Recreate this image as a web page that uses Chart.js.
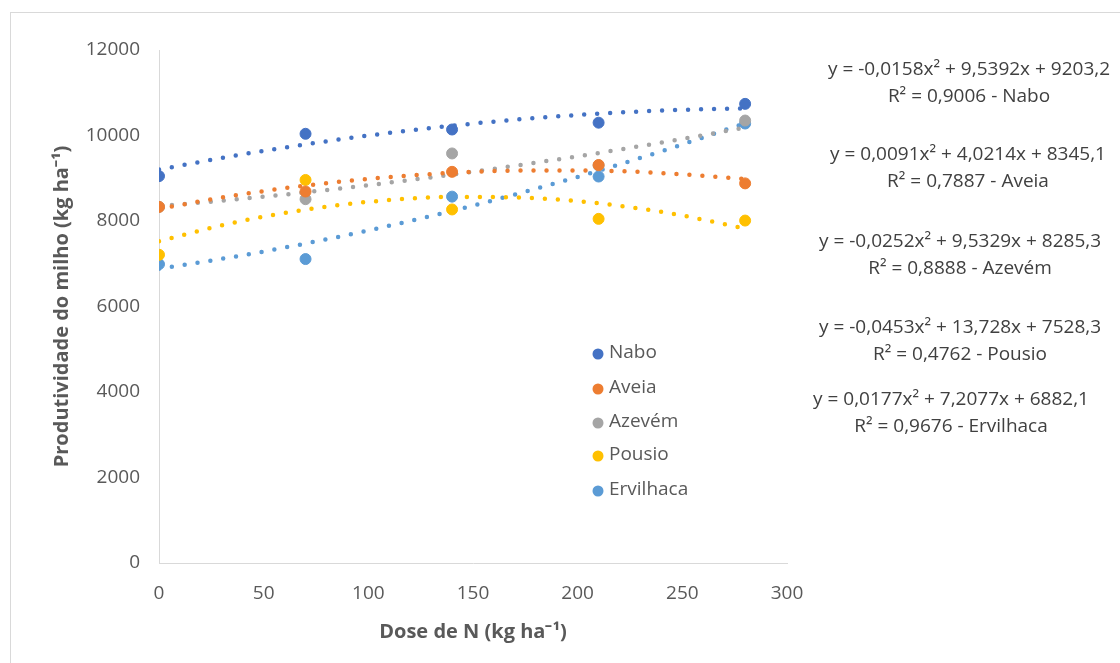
<!DOCTYPE html>
<html>
<head>
<meta charset="utf-8">
<script src="https://cdn.jsdelivr.net/npm/chart.js@4.4.1/dist/chart.umd.min.js"></script>
<style>
    html, body { margin: 0; padding: 0; background: #fff; }
    #wrap { width: 1120px; height: 663px; position: relative; }
</style>
</head>
<body>
<div id="wrap"><canvas id="chart" width="1120" height="663"></canvas></div>
<script>
// Doses de N (kg/ha)
const doses = [0, 70, 140, 210, 280];
const trendDoses = [0, 35, 70, 105, 140, 175, 210, 245, 280];

const seriesNames = ['Nabo', 'Aveia', 'Azevém', 'Pousio', 'Ervilhaca'];
const seriesColors = ['#4472C4', '#ED7D31', '#A5A5A5', '#FFC000', '#5B9BD5'];

// observed yields (kg/ha)
const nabo = [9050, 10040, 10140, 10300, 10740];
const aveia = [8330, 8690, 9150, 9310, 8880];
const azevem = [8330, 8510, 9580, 9300, 10350];
const pousio = [7210, 8960, 8270, 8050, 8010];
const ervilhaca = [6990, 7110, 8570, 9040, 10280];

// dotted trendlines at the trendDoses
const trendNabo = [9203, 9518, 9793, 10031, 10229, 10389, 10510, 10592, 10635];
const trendAveia = [8285, 8588, 8829, 9008, 9126, 9182, 9176, 9108, 8979];
const trendAzevem = [8345, 8497, 8671, 8868, 9086, 9328, 9591, 9877, 10184];
const trendPousio = [7528, 7953, 8267, 8470, 8562, 8543, 8414, 8173, 7821];
const trendErvilhaca = [6882, 7156, 7473, 7834, 8238, 8686, 9176, 9710, 10288];

const equations = [
    ['y = -0,0158x² + 9,5392x + 9203,2', 'R² = 0,9006 - Nabo'],
    ['y = 0,0091x² + 4,0214x + 8345,1', 'R² = 0,7887 - Aveia'],
    ['y = -0,0252x² + 9,5329x + 8285,3', 'R² = 0,8888 - Azevém'],
    ['y = -0,0453x² + 13,728x + 7528,3', 'R² = 0,4762 - Pousio'],
    ['y = 0,0177x² + 7,2077x + 6882,1', 'R² = 0,9676 - Ervilhaca']
];

const yTicks = [0, 2000, 4000, 6000, 8000, 10000, 12000];
const xTicks = [0, 50, 100, 150, 200, 250, 300];

const FONT = "'Open Sans', 'Liberation Sans', sans-serif";

const observed = [nabo, aveia, azevem, pousio, ervilhaca];
const trends = [trendNabo, trendAveia, trendAzevem, trendPousio, trendErvilhaca];

function toPoints(xs, ys) {
    return xs.map((x, i) => ({ x: x, y: ys[i] }));
}

const datasets = [];
observed.forEach((vals, i) => {
    datasets.push({
        label: seriesNames[i],
        data: toPoints(doses, vals),
        backgroundColor: seriesColors[i],
        borderColor: seriesColors[i],
        pointRadius: 5.5,
        pointHoverRadius: 5.5,
        showLine: false,
        order: 0
    });
});
trends.forEach((vals, i) => {
    datasets.push({
        label: 'trend ' + seriesNames[i],
        data: toPoints(trendDoses, vals),
        borderColor: seriesColors[i],
        borderWidth: 4.5,
        borderDash: [0, 13],
        borderCapStyle: 'round',
        pointRadius: 0,
        showLine: true,
        cubicInterpolationMode: 'monotone',
        fill: false,
        order: 1
    });
});

// legend inside the plot + equation labels + frame
const extrasPlugin = {
    id: 'extras',
    beforeDraw(chart) {
        const ctx = chart.ctx;
        ctx.save();
        ctx.strokeStyle = '#D9D9D9';
        ctx.lineWidth = 1;
        ctx.strokeRect(10.5, 12.5, 1120, 663);
        ctx.restore();
    },
    afterDraw(chart) {
        const ctx = chart.ctx;
        ctx.save();

        // legend
        const legendY = [353, 388, 422, 455, 490];
        ctx.font = '19px ' + FONT;
        ctx.textBaseline = 'middle';
        ctx.textAlign = 'left';
        seriesNames.forEach((name, i) => {
            ctx.fillStyle = seriesColors[i];
            ctx.beginPath();
            ctx.arc(598, legendY[i] + 1, 5.5, 0, Math.PI * 2);
            ctx.fill();
            ctx.fillStyle = '#595959';
            ctx.fillText(name, 609, legendY[i]);
        });

        // equations
        const eqX = [969, 968, 960, 960, 951];
        const eqY = [70, 155, 242, 328, 400];
        ctx.font = '19px ' + FONT;
        ctx.textAlign = 'center';
        ctx.fillStyle = '#404040';
        equations.forEach((lines, i) => {
            ctx.fillText(lines[0], eqX[i], eqY[i]);
            ctx.fillText(lines[1], eqX[i], eqY[i] + 27);
        });
        ctx.restore();
    }
};

new Chart(document.getElementById('chart'), {
    type: 'scatter',
    data: { datasets: datasets },
    options: {
        responsive: false,
        animation: false,
        devicePixelRatio: 1,
        layout: {
            padding: { left: 0, right: 333, top: 50, bottom: 0 }
        },
        plugins: {
            legend: { display: false },
            tooltip: { enabled: false }
        },
        scales: {
            x: {
                type: 'linear',
                min: 0,
                max: 300,
                afterBuildTicks: (scale) => {
                    scale.ticks = xTicks.map(v => ({ value: v }));
                },
                afterFit: (scale) => { scale.height = 100; },
                grid: { display: false, drawTicks: false },
                border: { display: true, color: '#D9D9D9', width: 1 },
                ticks: {
                    color: '#595959',
                    padding: 19,
                    font: { family: FONT, size: 19 },
                    maxRotation: 0,
                    callback: (v) => String(v)
                },
                title: {
                    display: true,
                    text: 'Dose de N (kg ha⁻¹)',
                    color: '#595959',
                    font: { family: FONT, size: 20, weight: 'bold' },
                    padding: { top: 0, bottom: 19 }
                }
            },
            y: {
                type: 'linear',
                min: 0,
                max: 12000,
                afterBuildTicks: (scale) => {
                    scale.ticks = yTicks.map(v => ({ value: v }));
                },
                afterFit: (scale) => { scale.width = 159; },
                grid: { display: false, drawTicks: false },
                border: { display: true, color: '#D9D9D9', width: 1 },
                ticks: {
                    color: '#595959',
                    padding: 19,
                    font: { family: FONT, size: 19 },
                    callback: (v) => String(v)
                },
                title: {
                    display: true,
                    text: 'Produtividade do milho (kg ha⁻¹)',
                    color: '#595959',
                    font: { family: FONT, size: 20, weight: 'bold' },
                    padding: { top: 50, bottom: 0 }
                }
            }
        }
    },
    plugins: [extrasPlugin]
});
</script>
</body>
</html>
